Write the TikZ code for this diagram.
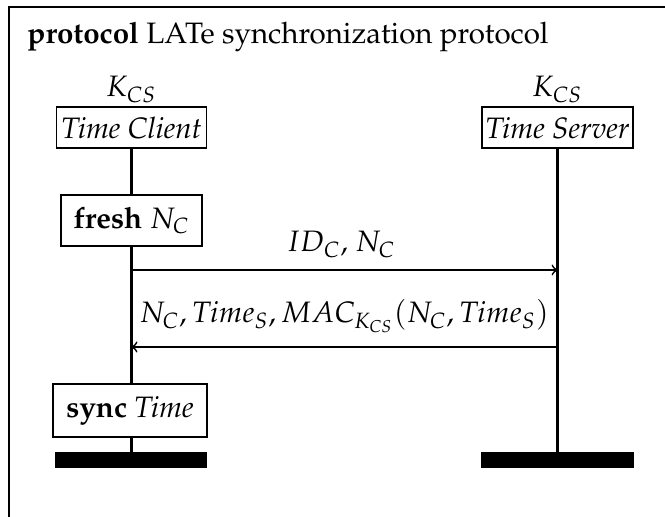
\documentclass[tikz,border=0pt]{standalone}
\usepackage[T1]{fontenc}
\usepackage{mathpazo}
\begin{document}
\begin{tikzpicture}[x=0.4065pt,y=-0.4065pt,
  every node/.style={font=\fontsize{12}{14.4}\selectfont},
  box/.style={draw,line width=0.7pt,inner sep=0pt,align=center},
  life/.style={line width=0.9pt},
  msg/.style={line width=0.7pt,->},
  lbl/.style={anchor=base,inner sep=0pt},
  bar/.style={fill=black,draw=none,inner sep=0pt,minimum height=6.5pt}]
\useasboundingbox (0,0) rectangle (665,517);
\clip (0,0) rectangle (665,517);
\draw[line width=0.7pt] (9,7) rectangle (800,650);
\node[anchor=base west,inner sep=0pt] (title) at (27,44) {\textbf{protocol} LATe synchronization protocol};
% participants
\node[box,minimum width=61pt,minimum height=16.7pt] (tc) at (131.5,127.5) {\textit{Time Client}};
\node[box,minimum width=61.4pt,minimum height=16.7pt] (ts) at (557.5,127.5) {\textit{Time Server}};
\node[lbl] (kc) at (131.5,97) {$K_{CS}$};
\node[lbl] (ks) at (557.5,97) {$K_{CS}$};
% actions
\node[box,minimum width=57.3pt,minimum height=20.7pt] (fresh) at (131.5,220.5) {\textbf{fresh} $N_C$};
\node[box,minimum width=62.6pt,minimum height=21.5pt] (sync) at (130,410.5) {\textbf{sync} \textit{Time}};
% end bars
\node[bar,minimum width=61.8pt] (barL) at (131,460) {};
\node[bar,minimum width=62.2pt] (barR) at (557.5,460) {};
% lifelines
\draw[life] (tc.south) -- (fresh.north);
\draw[life] (fresh.south) -- (sync.north -| fresh.south);
\draw[life] (sync.south -| fresh.south) -- (barL.north -| fresh.south);
\draw[life] (ts.south) -- (barR.north -| ts.south);
% messages
\coordinate (m1a) at (131.5,270);
\coordinate (m1b) at (557.5,270);
\coordinate (m2a) at (557.5,347);
\coordinate (m2b) at (131.5,347);
\draw[msg] (m1a) -- (m1b);
\draw[msg] (m2a) -- (m2b);
\node[lbl] (l1) at (341,252) {$ID_C$, $N_C$};
\node[lbl] (l2) at (344,323) {$N_C, Time_S, MAC_{K_{CS}}(N_C, Time_S)$};
\end{tikzpicture}
\end{document}
